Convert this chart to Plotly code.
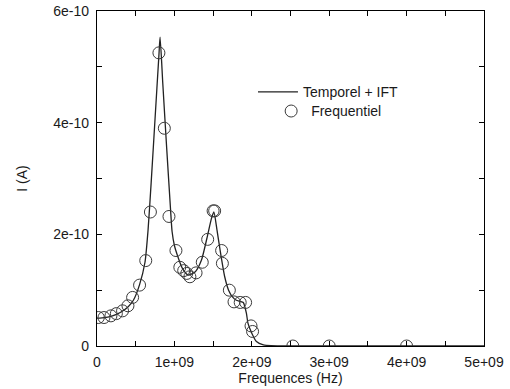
import numpy as np
import plotly.graph_objects as go

# Line "Temporel + IFT": frequency (GHz) and current (1e-10 A)
line_freq_ghz = [0.00, 0.10, 0.20, 0.30, 0.40, 0.47, 0.55, 0.62, 0.66, 0.70, 0.75, 0.80, 0.815,
                 0.85, 0.90, 0.95, 0.97, 1.00, 1.03, 1.10, 1.18, 1.27, 1.35, 1.42, 1.48, 1.51,
                 1.55, 1.59, 1.65, 1.70, 1.75, 1.80, 1.85, 1.89, 1.93, 1.95, 2.00, 2.06, 2.15,
                 2.25, 2.50, 3.00, 4.00, 5.00]
line_cur_e10 = [0.50, 0.51, 0.54, 0.60, 0.70, 0.82, 1.10, 1.50, 2.08, 2.93, 4.07, 5.21, 5.53,
                4.70, 3.55, 2.45, 2.05, 1.80, 1.66, 1.40, 1.27, 1.33, 1.54, 1.93, 2.29, 2.40,
                2.08, 1.72, 1.24, 1.00, 0.88, 0.82, 0.80, 0.78, 0.59, 0.41, 0.23, 0.08, 0.02,
                0.005, 0.0, 0.0, 0.0, 0.0]

# Markers "Frequentiel"
pt_freq_ghz = [0.017, 0.09, 0.18, 0.25, 0.33, 0.40, 0.46, 0.55, 0.63, 0.69, 0.80, 0.87, 0.93,
               1.02, 1.07, 1.12, 1.16, 1.20, 1.28, 1.36, 1.43, 1.50, 1.52, 1.61, 1.62, 1.71,
               1.77, 1.85, 1.92, 1.99, 2.01, 2.53, 3.00, 4.00]
pt_cur_e10 = [0.51, 0.51, 0.54, 0.58, 0.63, 0.72, 0.87, 1.09, 1.53, 2.40, 5.25, 3.90, 2.32,
              1.71, 1.41, 1.35, 1.30, 1.24, 1.31, 1.50, 1.91, 2.42, 2.42, 1.71, 1.48, 1.00,
              0.79, 0.78, 0.78, 0.36, 0.26, 0.0, 0.0, 0.0]

x_tickvals = [0, 1e9, 2e9, 3e9, 4e9, 5e9]
x_ticktext = ["0", "1e+09", "2e+09", "3e+09", "4e+09", "5e+09"]
y_tickvals = [0, 2e-10, 4e-10, 6e-10]
y_ticktext = ["0", "2e-10", "4e-10", "6e-10"]

GHZ = 1e9
E10 = 1e-10
FONT = "Liberation Sans, Arial, sans-serif"
INK = "#1a1a1a"

fig = go.Figure()
fig.add_trace(go.Scatter(
    x=np.array(line_freq_ghz) * GHZ, y=np.array(line_cur_e10) * E10,
    mode="lines", name="Temporel + IFT", legend="legend",
    line=dict(color="#222222", width=1.3, shape="spline", smoothing=0.6),
))
fig.add_trace(go.Scatter(
    x=np.array(pt_freq_ghz) * GHZ, y=np.array(pt_cur_e10) * E10,
    mode="markers", name="Frequentiel", legend="legend2",
    marker=dict(symbol="circle-open", size=12, color="#3a3a3a", line=dict(width=1, color="#3a3a3a")),
))

leg_common = dict(xanchor="left", yanchor="top", bgcolor="rgba(0,0,0,0)",
                  borderwidth=0, font=dict(size=14, family=FONT, color=INK))

fig.update_layout(
    width=510, height=389,
    margin=dict(l=97, r=26, t=11, b=43),
    paper_bgcolor="white", plot_bgcolor="white",
    font=dict(family=FONT, size=14, color=INK),
    showlegend=True,
    legend=dict(x=0.403, y=0.805, itemwidth=40, **leg_common),
    legend2=dict(x=0.45, y=0.748, itemwidth=30, **leg_common),
)
fig.update_xaxes(
    range=[0, 5e9], tickvals=x_tickvals, ticktext=x_ticktext,
    tickfont=dict(size=14, family=FONT, color=INK), ticklabelstandoff=3,
    ticks="inside", ticklen=5, tickcolor="black", tickwidth=1,
    minor=dict(ticks="inside", ticklen=5, dtick=5e8, tickcolor="black", tickwidth=1),
    showline=True, linecolor="black", linewidth=1.3, mirror="allticks",
    showgrid=False, zeroline=False,
    title=dict(text="Frequences (Hz)", standoff=4, font=dict(size=14, family=FONT, color=INK)),
    automargin=False,
)
fig.update_yaxes(
    range=[0, 6e-10], tickvals=y_tickvals, ticktext=y_ticktext,
    tickfont=dict(size=14, family=FONT, color=INK), ticklabelstandoff=4,
    ticks="inside", ticklen=5, tickcolor="black", tickwidth=1,
    minor=dict(ticks="inside", ticklen=5, dtick=1e-10, tickcolor="black", tickwidth=1),
    showline=True, linecolor="black", linewidth=1.3, mirror="allticks",
    showgrid=False, zeroline=False,
    title=dict(text="I (A)", standoff=22, font=dict(size=14, family=FONT, color=INK)),
    automargin=False,
)

fig.write_html("out.html")
